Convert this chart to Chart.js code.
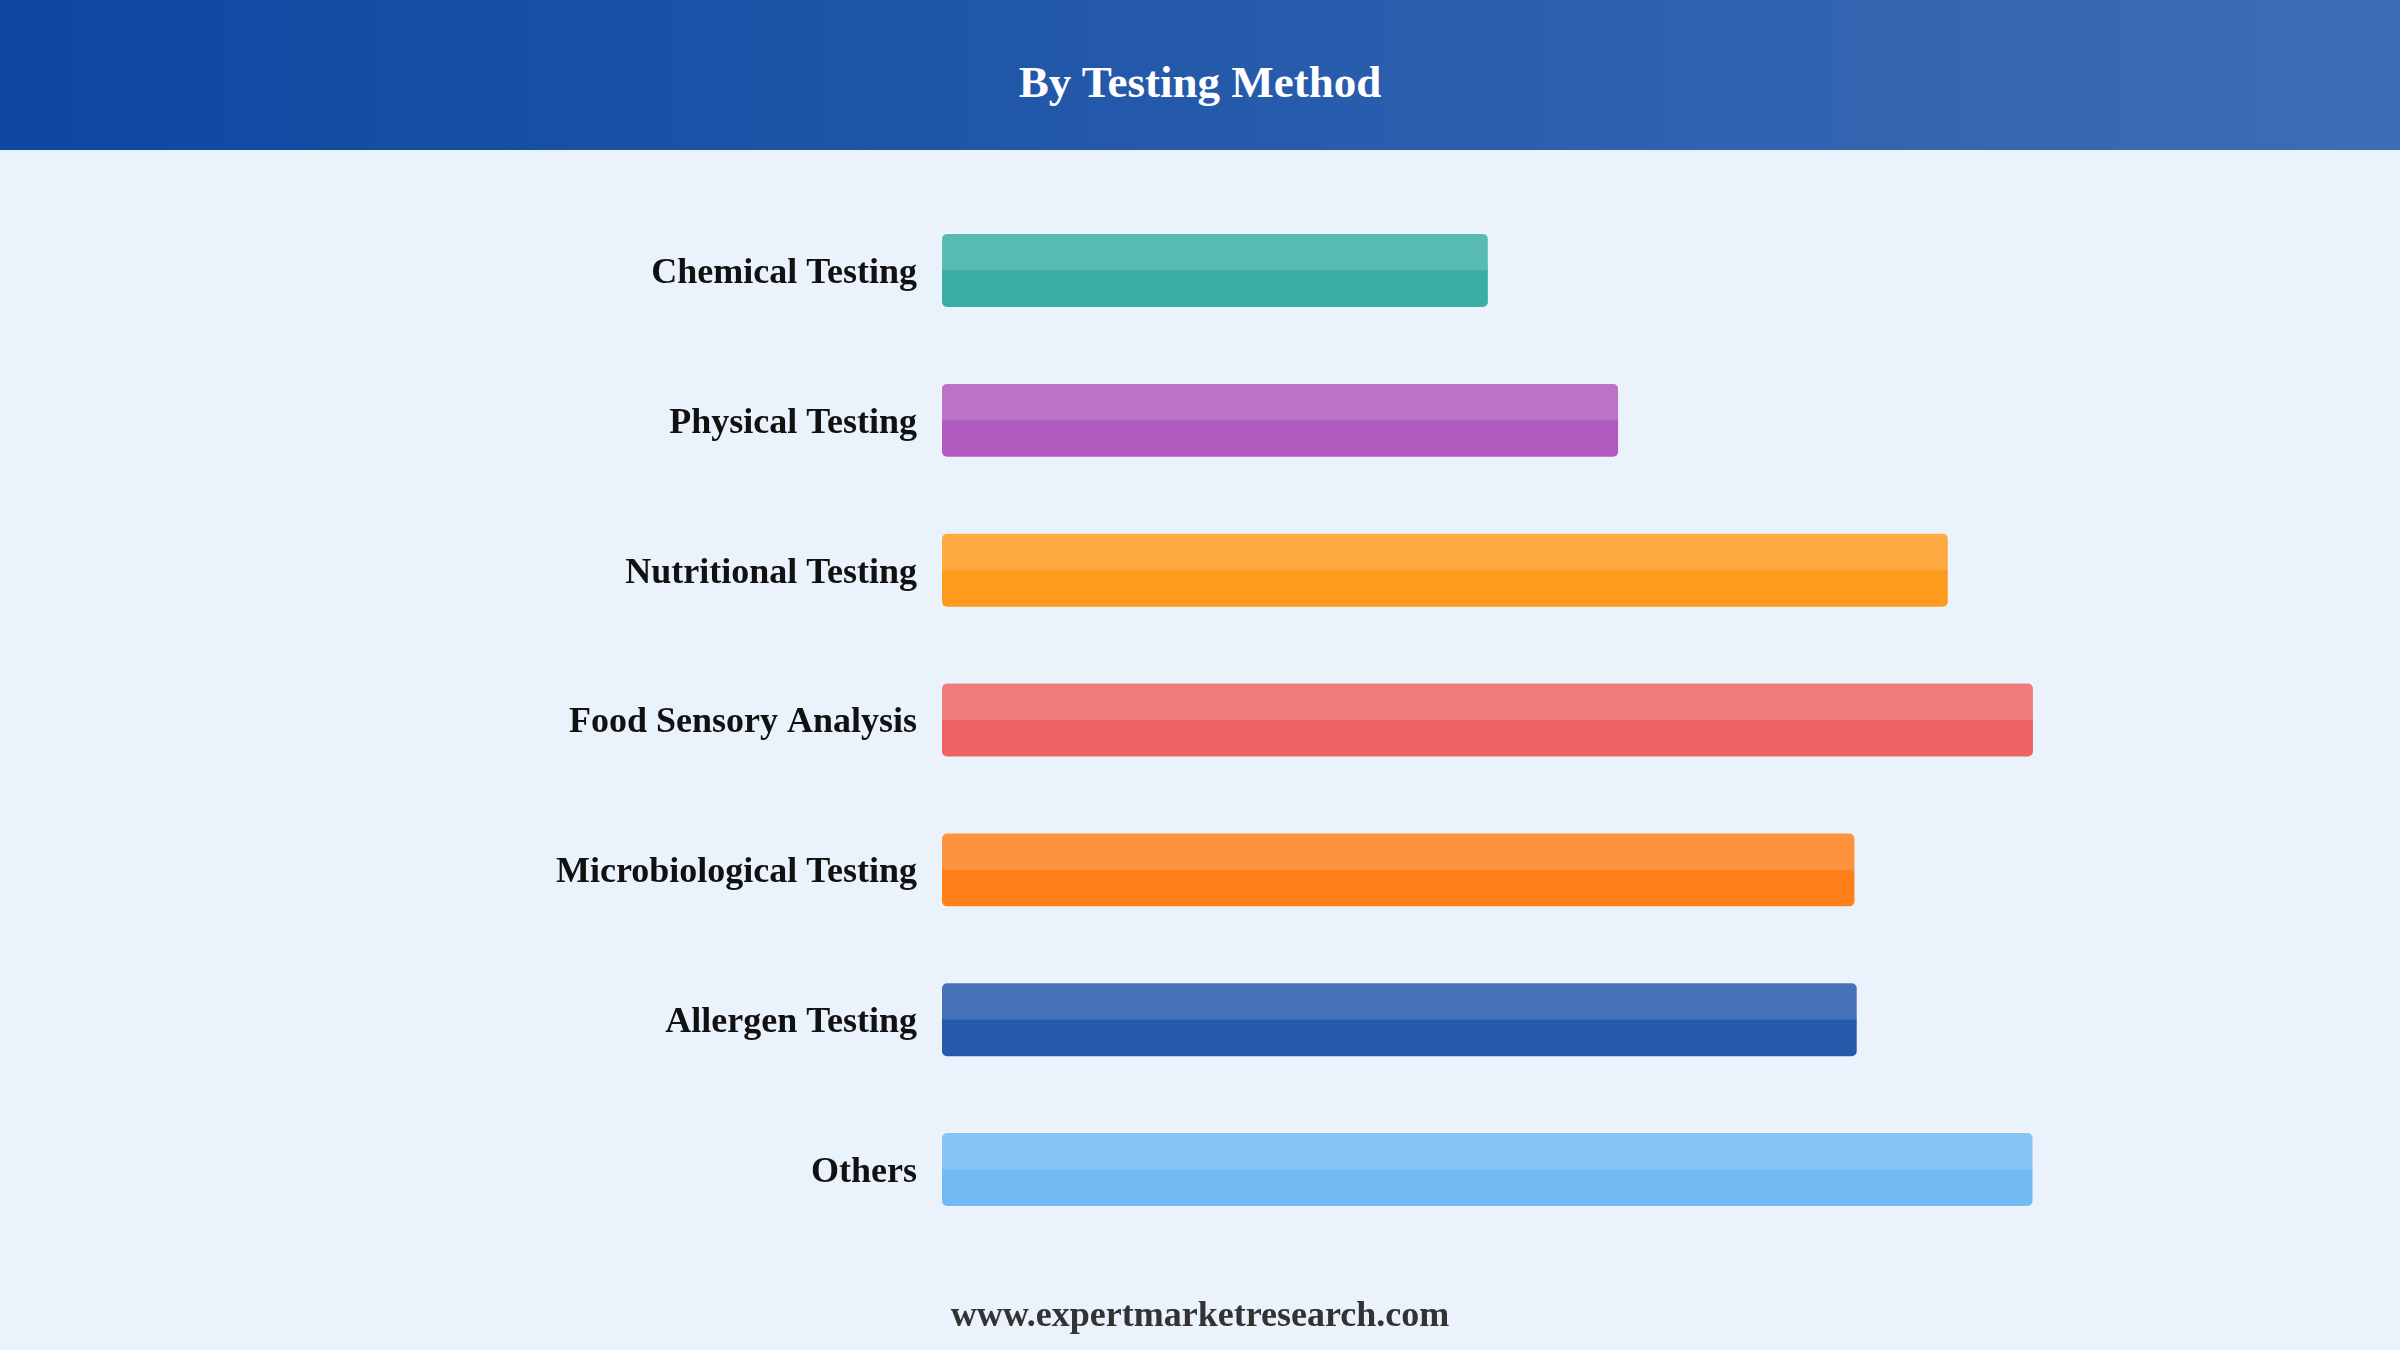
<!DOCTYPE html>
<html>
<head>
<meta charset="utf-8">
<script src="https://cdn.jsdelivr.net/npm/chart.js@4.4.1/dist/chart.umd.min.js"></script>
<style>
  html, body { margin: 0; padding: 0; width: 2400px; height: 1350px; overflow: hidden; background: #EAF2FC; }
  #header { position: absolute; left: 0; top: 0; width: 2400px; height: 150px;
    background: linear-gradient(90deg, #0D47A1 0%, #3D6DB5 100%); }
  #title { position: absolute; left: 0; top: 60px; width: 2400px; text-align: center;
    font-family: "Liberation Serif", "Times New Roman", serif; font-weight: bold; font-size: 45px;
    line-height: 1; color: #ffffff; }
  #chartWrap { position: absolute; left: 0; top: 150px; width: 2400px; height: 1200px; }
  #footer { position: absolute; left: 0; top: 1296px; width: 2400px; text-align: center;
    font-family: "Liberation Serif", "Times New Roman", serif; font-weight: bold; font-size: 36px;
    line-height: 1; color: #333333; }
</style>
</head>
<body>
<div id="header"><div id="title">By Testing Method</div></div>
<div id="chartWrap"><canvas id="c" width="2400" height="1200"></canvas></div>
<div id="footer">www.expertmarketresearch.com</div>
<script>
const categories = [
  "Chemical Testing",
  "Physical Testing",
  "Nutritional Testing",
  "Food Sensory Analysis",
  "Microbiological Testing",
  "Allergen Testing",
  "Others"
];
const values = [12.03, 14.89, 22.13, 24.0, 20.08, 20.13, 23.99];
const barColors = ["#3AAEA6", "#B05ABF", "#FD9B1E", "#EE6464", "#FF7F1A", "#2559AA", "#72BAF3"];
const axisMax = 25;

const highlightPlugin = {
  id: 'highlight',
  afterDatasetsDraw(chart) {
    const ctx = chart.ctx;
    const meta = chart.getDatasetMeta(0);
    ctx.save();
    meta.data.forEach((bar) => {
      const left = Math.min(bar.base, bar.x);
      const w = Math.abs(bar.x - bar.base);
      const top = bar.y - bar.height / 2;
      const h = bar.height / 2;
      ctx.fillStyle = 'rgba(255,255,255,0.15)';
      ctx.beginPath();
      ctx.roundRect(left, top, w, h, [6, 6, 4, 4]);
      ctx.fill();
    });
    ctx.restore();
  }
};

new Chart(document.getElementById('c'), {
  type: 'bar',
  data: {
    labels: categories,
    datasets: [{
      data: values,
      backgroundColor: barColors,
      borderColor: 'rgba(255,255,255,0.25)',
      borderWidth: 1,
      borderRadius: 6,
      borderSkipped: false,
      categoryPercentage: 1.0,
      barPercentage: 0.5
    }]
  },
  options: {
    indexAxis: 'y',
    responsive: false,
    animation: false,
    devicePixelRatio: 1,
    layout: { padding: { left: 0, right: 320.5, top: 43.5, bottom: 105.5 } },
    plugins: { legend: { display: false }, tooltip: { enabled: false }, title: { display: false } },
    scales: {
      x: { display: false, min: 0, max: axisMax },
      y: {
        grid: { display: false, drawTicks: false },
        border: { display: false },
        ticks: {
          color: '#111111',
          padding: 24,
          labelOffset: 3,
          font: { family: '"Liberation Serif", "Times New Roman", serif', weight: 'bold', size: 36 }
        },
        afterFit(scale) { scale.width = 941; }
      }
    }
  },
  plugins: [highlightPlugin]
});
</script>
</body>
</html>
